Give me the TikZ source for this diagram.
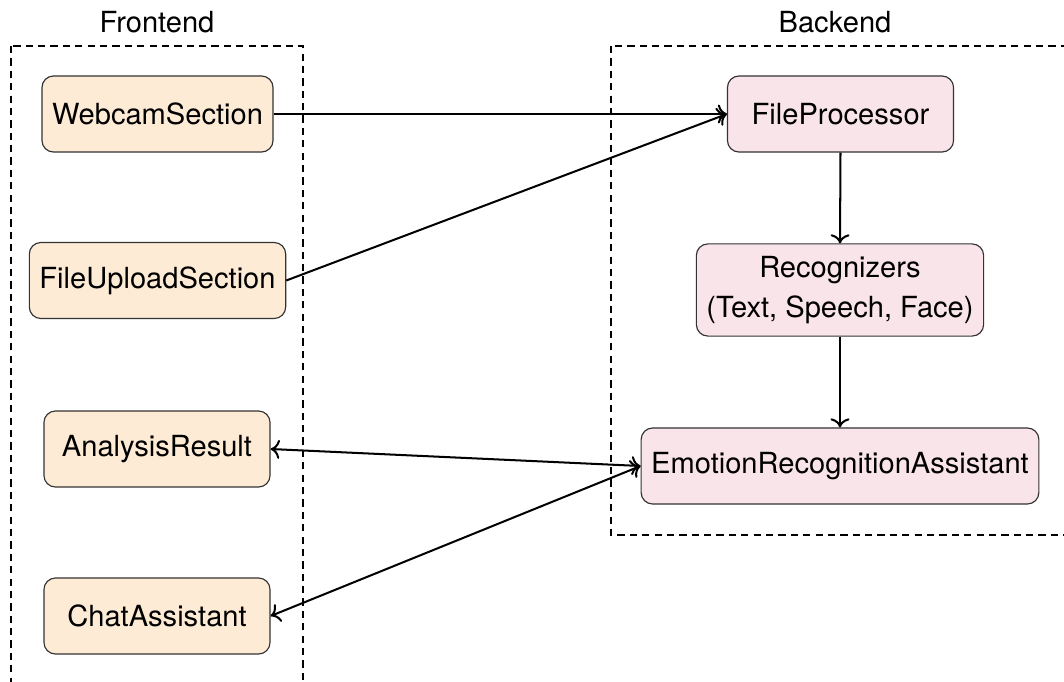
\documentclass[tikz,border=0pt]{standalone}
\usepackage{fontspec}
\setmainfont{TeX Gyre Heros}
\usetikzlibrary{arrows.meta}
\definecolor{feFill}{HTML}{FEEBD6}
\definecolor{beFill}{HTML}{F9E4EA}
\definecolor{boxLine}{HTML}{333333}
\begin{document}
\begin{tikzpicture}[x=0.3472pt,y=-0.3472pt,
  fenode/.style={draw=boxLine,line width=0.4pt,fill=feFill,rounded corners=4pt,
    minimum width=78.5pt,minimum height=26.4pt,inner sep=3.5pt,font=\fontsize{10.1}{12.5}\selectfont,align=center},
  benode/.style={fenode,fill=beFill},
  groupbox/.style={draw,line width=0.7pt,dash pattern=on 2.5pt off 1.8pt},
  conn/.style={line width=0.7pt,->},
  bconn/.style={line width=0.7pt,<->},
  grouplabel/.style={font=\fontsize{10.1}{12}\selectfont}]
\useasboundingbox (0,0) rectangle (1064,681);
\draw[groupbox] (11,46) rectangle (303,700);
\draw[groupbox] (611,46) rectangle (1075,535);
\node[grouplabel] (felabel) at (157,22) {Frontend};
\node[grouplabel] (belabel) at (835,22) {Backend};
\node[fenode] (webcam) at (157.5,114) {WebcamSection};
\node[fenode] (upload) at (157.5,280.5) {FileUploadSection};
\node[fenode] (analysis) at (157,449) {AnalysisResult};
\node[fenode] (chat) at (157,616) {ChatAssistant};
\node[benode] (fileproc) at (840.5,114) {FileProcessor};
\node[benode,minimum height=32pt,font=\fontsize{10.1}{14}\selectfont] (recog) at (840,290) {Recognizers\\(Text, Speech, Face)};
\node[benode] (era) at (840,466) {EmotionRecognitionAssistant};
\draw[conn] (webcam.east) -- (fileproc.west);
\draw[conn] (upload.east) -- (fileproc.west);
\draw[conn] (fileproc.south) -- (recog.north);
\draw[conn] (recog.south) -- (era.north);
\draw[bconn] (analysis.east) -- (era.west);
\draw[bconn] (chat.east) -- (era.west);
\end{tikzpicture}
\end{document}
